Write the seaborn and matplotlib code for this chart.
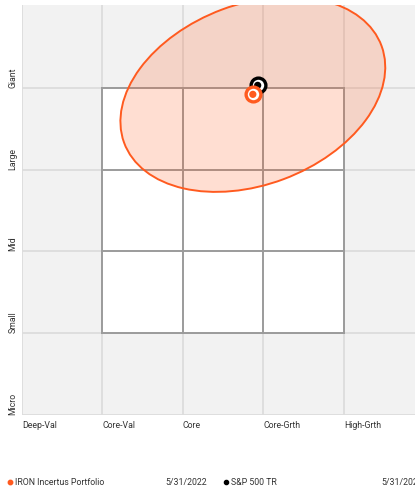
import numpy as np
import pandas as pd
import matplotlib
matplotlib.use('Agg')
import matplotlib.pyplot as plt
from matplotlib.patches import Ellipse, Rectangle
from matplotlib.lines import Line2D
import seaborn as sns

""" DATA """
style_labels = ['Deep-Val', 'Core-Val', 'Core', 'Core-Grth', 'High-Grth']
size_labels = ['Micro', 'Small', 'Mid', 'Large', 'Giant']

series_names = ['IRON Incertus Portfolio', 'S&P 500 TR']
series_dates = ['5/31/2022', '5/31/2022']
series_x = [2.87, 2.93]      # style score
series_y = [3.92, 4.03]      # size score
series_colors = ['#ff5a1f', '#000000']

# ownership zone of the portfolio
zone_width = 3.41
zone_height = 2.21
zone_angle = 20.2

""" SETTINGS """
sns.set_style('white')
plt.rcParams['font.family'] = ['Roboto', 'DejaVu Sans']
text_color = '#333333'
fs = 6.3
orange = series_colors[0]

fig = plt.figure(figsize=(4.15, 4.94), dpi=100)
ax = fig.add_axes([21.8/415, 1 - 415/494, 1 - 21.8/415, 410/494])
ax.set_facecolor('#f2f2f2')
ax.set_xlim(0, (415 - 21.8)/80.5)
ax.set_ylim(0, 410/81.8)
for s in ax.spines.values():
	s.set_visible(False)

# outer grid
for i in range(5):
	ax.axvline(i, color='#dcdcdc', lw=1.3, zorder=0.5)
	ax.axhline(i, color='#dcdcdc', lw=1.3, zorder=0.5)

# style box
ax.add_patch(Rectangle((1, 1), 3, 3, facecolor='white', edgecolor='none', zorder=1))
for i in range(1, 5):
	ax.plot([i, i], [1, 4], color='#9b9b9b', lw=1.4, zorder=1.5, solid_capstyle='projecting')
	ax.plot([1, 4], [i, i], color='#9b9b9b', lw=1.4, zorder=1.5, solid_capstyle='projecting')

# ownership zone
ax.add_patch(Ellipse((series_x[0], series_y[0]), zone_width, zone_height, angle=zone_angle,
	facecolor=(1.0, 0.353, 0.122, 0.2), edgecolor=orange, lw=1.4, zorder=2))

# centroids, benchmark first so portfolio sits on top
df = pd.DataFrame({'name': series_names, 'x': series_x, 'y': series_y, 'color': series_colors})
for idx in [1, 0]:
	row = df.iloc[[idx]]
	c = row['color'].iloc[0]
	sns.scatterplot(data=row, x='x', y='y', ax=ax, s=113, color='white', edgecolor=c,
		linewidth=2.4, zorder=3 + (1 - idx), legend=False)
	sns.scatterplot(data=row, x='x', y='y', ax=ax, s=27, color=c, edgecolor='none',
		zorder=3.1 + (1 - idx), legend=False)

ax.set_xlabel('')
ax.set_ylabel('')
ax.set_xticks(range(5))
ax.set_xticklabels(style_labels, ha='left', fontsize=fs, color=text_color)
ax.set_yticks(range(5))
ax.set_yticklabels(size_labels, rotation=90, rotation_mode='anchor', ha='left', va='center',
	fontsize=fs, color=text_color)
ax.tick_params(axis='x', length=0, pad=4.5)
ax.tick_params(axis='y', length=0, pad=6.5)

# legend row
ly = 1 - 482/494
fig.add_artist(Line2D([10/415], [ly], marker='o', markersize=3.2, color=series_colors[0],
	transform=fig.transFigure))
fig.text(15/415, ly, series_names[0], fontsize=fs, color=text_color, va='center')
fig.text(165/415, ly, series_dates[0], fontsize=fs, color=text_color, va='center')
fig.add_artist(Line2D([225.5/415], [ly], marker='o', markersize=3.0, color=series_colors[1],
	transform=fig.transFigure))
fig.text(230.5/415, ly, series_names[1], fontsize=fs, color=text_color, va='center')
fig.text(381/415, ly, series_dates[1], fontsize=fs, color=text_color, va='center')

fig.savefig('out.png', dpi=100)
